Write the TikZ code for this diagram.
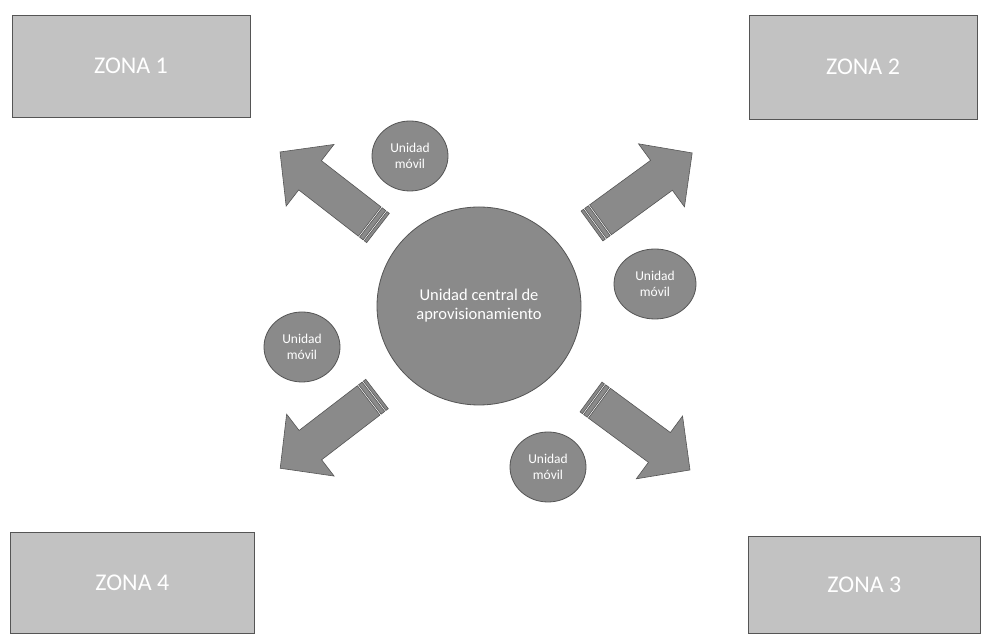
\documentclass[tikz,border=0pt]{standalone}
\usepackage{fontspec}
\setmainfont{Carlito}
\usetikzlibrary{shapes.geometric}
\definecolor{zonefill}{HTML}{C2C2C2}
\definecolor{discfill}{HTML}{8A8A8A}
\definecolor{discedge}{HTML}{555555}
\tikzset{
  zone/.style={draw=discedge, line width=0.6pt, fill=zonefill, minimum width=236pt,
    minimum height=102pt, inner sep=0pt, text=white, font=\fontsize{24}{26}\selectfont},
  disc/.style={ellipse, draw=discedge, line width=0.8pt, fill=discfill, inner sep=0pt,
    text=white, align=center},
  small/.style={disc, minimum width=76pt, minimum height=70pt, font=\fontsize{13.5}{16}\selectfont},
  arrowbody/.style={fill=discfill, draw=discedge, line width=0.6pt, line join=miter}
}
\newcommand{\stripedarrow}[3]{%
  \begin{scope}[shift={#1}, rotate=#2]
    \path[arrowbody] (0,-18.5) rectangle (3,18.5);
    \path[arrowbody] (4.5,-18.5) rectangle (9,18.5);
    \path[arrowbody] (10.5,-18.5) -- (#3-38,-18.5) -- (#3-38,-39) -- (#3,0)
      -- (#3-38,39) -- (#3-38,18.5) -- (10.5,18.5) -- cycle;
  \end{scope}}
\begin{document}
\begin{tikzpicture}[x=1pt,y=1pt]
\useasboundingbox[fill=white] (0,0) rectangle (983,634);
% zones
\node[zone, minimum width=238pt] (z1) at (131,568) {ZONA 1};
\node[zone, minimum width=228pt, minimum height=104pt] (z2) at (863,567) {ZONA 2};
\node[zone, minimum width=244pt, minimum height=101pt, anchor=south west] (z4) at (10,0) {ZONA 4};
\node[zone, minimum width=232pt, minimum height=97pt, anchor=south west] (z3) at (748,0) {ZONA 3};
% arrows
\stripedarrow{(378,406)}{142.2}{124}
\stripedarrow{(592,408)}{36.1}{124}
\stripedarrow{(377,240)}{217.5}{122}
\stripedarrow{(591,237)}{-36.4}{123}
% central unit
\node[disc, minimum width=204pt, minimum height=198pt, font=\fontsize{16.5}{19}\selectfont]
  (c) at (479,328) {Unidad central de\\aprovisionamiento};
% mobile units
\node[small] (m1) at (410,478) {Unidad\\móvil};
\node[small, minimum width=82pt] (m2) at (655,350) {Unidad\\móvil};
\node[small] (m3) at (302,287) {Unidad\\móvil};
\node[small] (m4) at (548,167) {Unidad\\móvil};
\end{tikzpicture}
\end{document}
